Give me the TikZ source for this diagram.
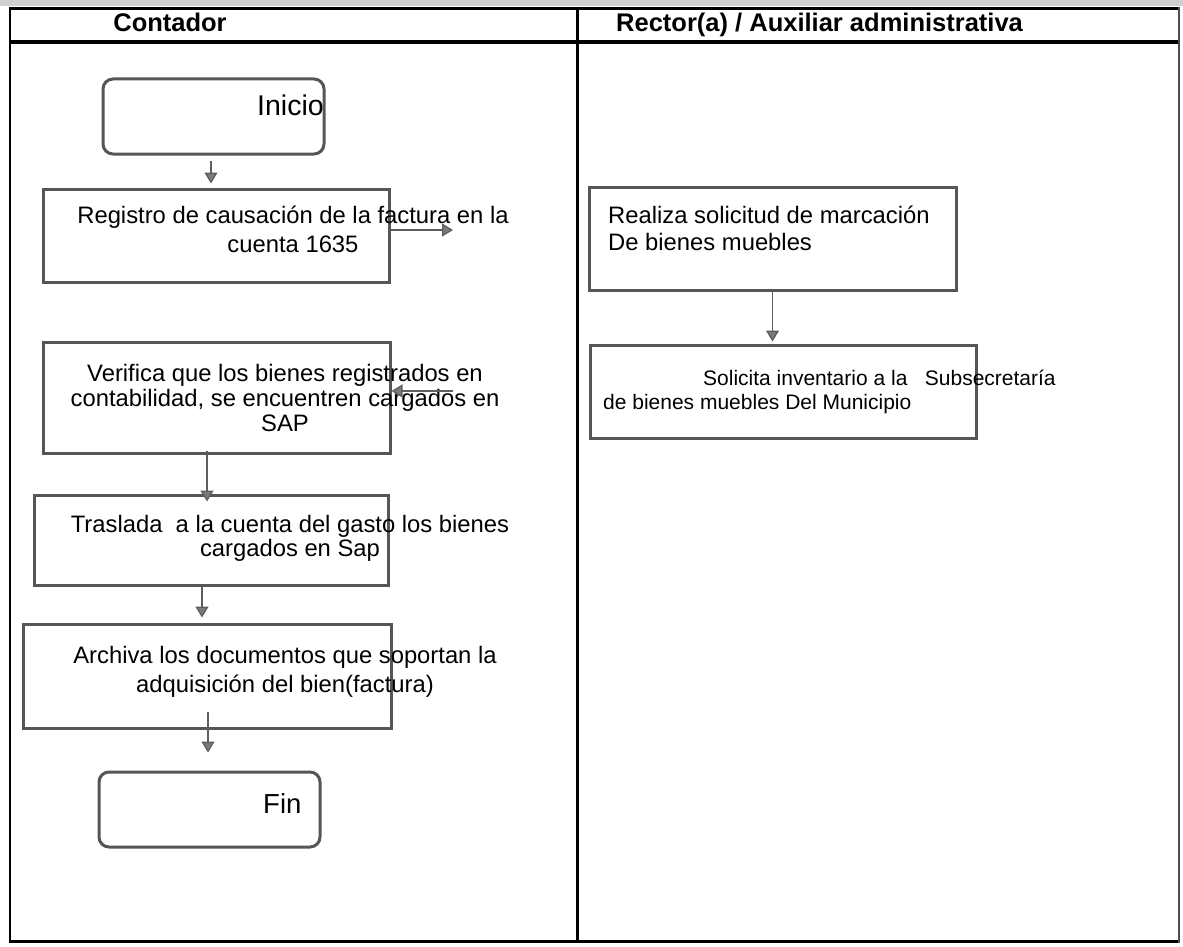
\documentclass[tikz,border=0pt]{standalone}
\usepackage{fontspec}
\setmainfont{Liberation Sans}
\usetikzlibrary{arrows.meta}
\definecolor{boxline}{HTML}{565656}
\definecolor{arrowline}{HTML}{5E5E5E}
\definecolor{arrowfill}{HTML}{7A7A7A}
\definecolor{scanband}{HTML}{CFCFCF}
\begin{document}
\begin{tikzpicture}[x=1pt,y=-1pt,
  tableline/.style={line width=3pt,black},
  stepbox/.style={draw=boxline,line width=3pt,rectangle,inner sep=0pt},
  endbox/.style={stepbox,rounded corners=10pt},
  txt/.style={inner sep=0pt,text=black},
  body/.style={font=\fontsize{23.8}{#1}\selectfont},
  head/.style={font=\bfseries\fontsize{25.5}{30}\selectfont},
  flow/.style={draw=arrowline,line width=1.3pt,
    -{Triangle[width=13pt,length=11pt,fill=arrowfill]}}]
\useasboundingbox (0,0) rectangle (1183,947);
\fill[white] (0,0) rectangle (1183,947);
\fill[scanband] (0,0) rectangle (1183,6);

% table frame and lanes
\draw[tableline] (10,9) -- (1179,9);
\draw[tableline,line width=3.5pt] (10,42) -- (1179,42);
\draw[tableline] (10,941) -- (1179,941);
\draw[tableline,line width=2.5pt] (10,7.5) -- (10,942.5);
\draw[tableline] (577,7.5) -- (577,942.5);
\draw[line width=1.5pt,black!70] (1179,7.5) -- (1179,942.5);

% lane headers
\node[txt,head,anchor=base] (h1) at (170,32) {Contador};
\node[txt,head,anchor=base west] (h2) at (616,32) {Rector(a) / Auxiliar administrativa};

% Contador lane: boxes
\node[endbox,minimum width=221pt,minimum height=75pt] (ini) at (213.5,116.5) {};
\node[stepbox,minimum width=346pt,minimum height=93pt] (b1) at (216,235.5) {};
\node[stepbox,minimum width=347pt,minimum height=111pt] (b2) at (216.5,397.5) {};
\node[stepbox,minimum width=354pt,minimum height=90pt] (b3) at (211,540) {};
\node[stepbox,minimum width=368pt,minimum height=104pt] (b4) at (207,676) {};
\node[endbox,minimum width=221pt,minimum height=75pt] (fin) at (209.5,809.5) {};

% Contador lane: texts (base anchor sits on the last line)
\node[txt,anchor=base west,font=\fontsize{28.5}{30}\selectfont] (tini) at (257,116) {Inicio};
\node[txt,anchor=base,align=center,body=29] (t1) at (293,252)
  {Registro de causación de la factura en la\\cuenta 1635};
\node[txt,anchor=base,align=center,body=25] (t2) at (285,431)
  {Verifica que los bienes registrados en\\contabilidad, se encuentren cargados en\\SAP};
\node[txt,anchor=base,align=center,body=24] (t3) at (290,556)
  {Traslada\ \ a la cuenta del gasto los bienes\\cargados en Sap};
\node[txt,anchor=base,align=center,body=29] (t4) at (285,692)
  {Archiva los documentos que soportan la\\adquisición del bien(factura)};
\node[txt,anchor=base west,font=\fontsize{27.5}{30}\selectfont] (tfin) at (263,813) {Fin};

% Rector lane: boxes
\node[stepbox,minimum width=367pt,minimum height=103pt] (b5) at (772.5,238.5) {};
\node[stepbox,minimum width=386pt,minimum height=93pt] (b6) at (783,391.5) {};

% Rector lane: texts
\node[txt,anchor=base west,align=left,body=27] (t5) at (608,250)
  {Realiza solicitud de marcación\\De bienes muebles};
\node[txt,anchor=base west,align=left,font=\fontsize{21}{24}\selectfont] (t6) at (603,409)
  {\hspace*{100pt}Solicita inventario a la\ \ \ Subsecretaría\\de bienes muebles Del Municipio};

% side connectors with free ends
\coordinate (r1) at (453,230);
\coordinate (r2) at (453,391);

% connectors
\draw[flow,shorten <=5pt,shorten >=4pt] ([xshift=-2.5pt]ini.south) -- ([xshift=-2.5pt]ini.south |- b1.north);
\draw[flow] (b1.east |- r1) -- (r1);
\draw[flow] (r2) -- (b2.east |- r2);
\draw[flow,shorten <=-4pt,shorten >=-8pt] ([xshift=-9.5pt]b2.south) -- ([xshift=-9.5pt]b2.south |- b3.north);
\draw[flow,shorten >=5pt] ([xshift=-9pt]b3.south) -- ([xshift=-9pt]b3.south |- b4.north);
\draw[flow,shorten <=-18pt,shorten >=18pt] ([xshift=1pt]b4.south) -- ([xshift=1pt]b4.south |- fin.north);
\draw[flow,shorten >=2pt] (b5.south) -- (b5.south |- b6.north);
\end{tikzpicture}
\end{document}
